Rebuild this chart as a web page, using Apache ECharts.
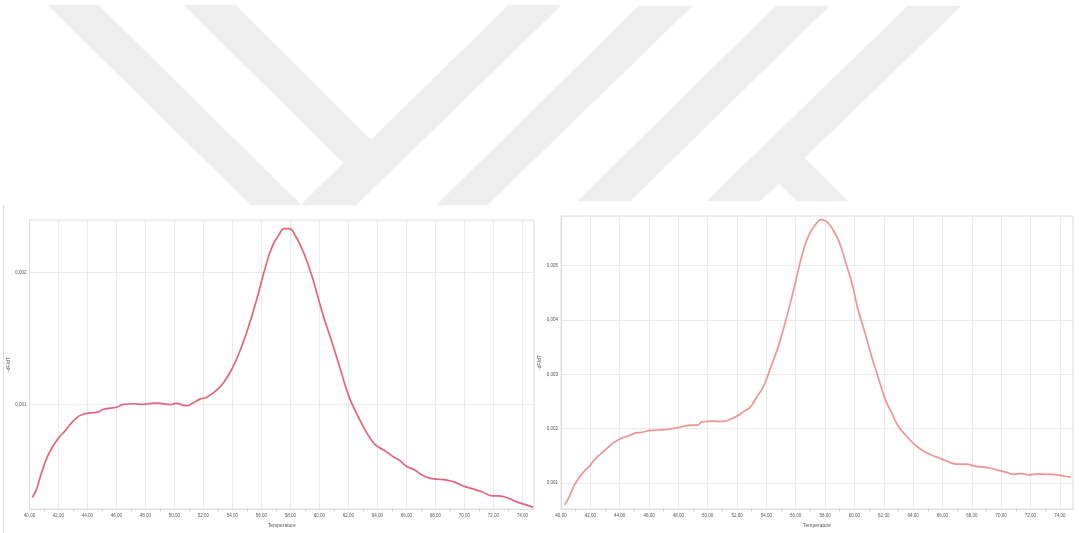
<!DOCTYPE html>
<html>
<head>
<meta charset="utf-8">
<script src="https://cdn.jsdelivr.net/npm/echarts@6/dist/echarts.min.js"></script>
<style>
  html, body { margin: 0; padding: 0; background: #ffffff; }
  #chart { width: 1079px; height: 533px; }
</style>
</head>
<body>
<div id="chart"></div>
<script>
// Melt curve derivative (-dF/dT) against temperature, two samples.
const leftTemps = [40.19, 40.48, 40.83, 41.3, 41.9, 42.5, 42.97, 43.68, 44.75, 45.1, 46.06, 46.4, 47.24, 47.7, 48.2, 48.79, 49.74, 50.1, 50.8, 51.28, 51.76, 52.23, 52.83, 53.42, 54.01, 54.6, 55.08, 55.68, 56.27, 56.75, 57.22, 57.58, 57.93, 58.29, 58.76, 59.24, 59.71, 60.19, 60.78, 61.38, 61.97, 62.45, 63.16, 63.75, 64.1, 64.58, 65.06, 65.53, 66.0, 66.6, 67.08, 67.67, 68.38, 68.86, 69.33, 69.93, 70.52, 71.24, 71.95, 72.3, 72.9, 73.61, 74.32, 74.74];
const leftValues = [0.000293, 0.000355, 0.00048, 0.000618, 0.00073, 0.000805, 0.000868, 0.000925, 0.000943, 0.000963, 0.00098, 0.000998, 0.001005, 0.001, 0.001005, 0.00101, 0.000998, 0.001008, 0.00099, 0.00101, 0.00104, 0.001055, 0.0011, 0.00117, 0.00128, 0.00143, 0.00158, 0.0018, 0.00204, 0.0022, 0.00229, 0.002335, 0.002335, 0.00229, 0.00219, 0.002055, 0.00189, 0.0017, 0.0015, 0.00129, 0.00108, 0.000955, 0.000805, 0.000705, 0.000675, 0.000643, 0.000605, 0.000575, 0.00053, 0.0005, 0.000463, 0.000438, 0.00043, 0.000423, 0.00041, 0.00038, 0.00036, 0.000335, 0.000305, 0.000305, 0.000293, 0.00026, 0.000235, 0.000218];

const rightTemps = [40.25, 40.53, 40.88, 41.23, 41.58, 41.93, 42.28, 42.75, 43.21, 43.68, 44.26, 44.73, 45.08, 45.55, 46.13, 47.06, 47.99, 48.92, 49.28, 49.63, 50.32, 51.02, 51.6, 52.07, 52.54, 52.89, 53.35, 53.82, 54.28, 54.63, 54.98, 55.33, 55.68, 56.03, 56.38, 56.85, 57.32, 57.78, 58.13, 58.48, 58.95, 59.42, 59.88, 60.23, 60.7, 61.17, 61.63, 62.1, 62.57, 63.03, 63.5, 64.08, 64.66, 65.25, 65.95, 66.64, 67.0, 67.57, 68.27, 68.98, 69.68, 70.38, 70.84, 71.42, 71.89, 72.47, 73.17, 73.87, 74.35, 74.77];
const rightValues = [0.000602, 0.000735, 0.000946, 0.001097, 0.001217, 0.001308, 0.001428, 0.001549, 0.001658, 0.00176, 0.001839, 0.001881, 0.001923, 0.001935, 0.001971, 0.001983, 0.00202, 0.002068, 0.002068, 0.002128, 0.00214, 0.002134, 0.002183, 0.002243, 0.002333, 0.002394, 0.002587, 0.002786, 0.003118, 0.00337, 0.00366, 0.00400, 0.00436, 0.004747, 0.005139, 0.005531, 0.005742, 0.005845, 0.005802, 0.005682, 0.00544, 0.00504, 0.004626, 0.004204, 0.003781, 0.003329, 0.002937, 0.002545, 0.002273, 0.002032, 0.001881, 0.001718, 0.001597, 0.001519, 0.001446, 0.001368, 0.00135, 0.00135, 0.001308, 0.00129, 0.001247, 0.001199, 0.001163, 0.001175, 0.001151, 0.001169, 0.001163, 0.001151, 0.001127, 0.001115];

const xAxisName = 'Temperature';
const yAxisName = '-dF/dT';

const pairs = (xs, ys) => xs.map((x, i) => [x, ys[i]]);
const comma = (v, d) => v.toFixed(d).replace('.', ',');

const gridLine = '#ebebeb';
const textColor = '#555555';

function xAxisFor(gridIndex, max) {
  return {
    type: 'value', gridIndex, min: 40, max, interval: 2,
    name: xAxisName, nameLocation: 'middle', nameGap: 11,
    nameTextStyle: { fontSize: 5, color: textColor, fontFamily: 'Liberation Sans' },
    axisLine: { show: true, lineStyle: { color: '#dcdcdc', width: 1 } },
    axisTick: { show: false },
    minorTick: { show: true, splitNumber: 2, length: 2, lineStyle: { color: '#c8c8c8' } },
    axisLabel: { fontSize: 4.5, color: textColor, margin: 4, showMaxLabel: false,
      fontFamily: 'Liberation Sans', formatter: v => comma(v, 2) },
    splitLine: { show: true, lineStyle: { color: gridLine, width: 1 } }
  };
}

function yAxisFor(gridIndex, min, max, gap) {
  return {
    type: 'value', gridIndex, min, max, minInterval: 0.001, maxInterval: 0.001,
    name: yAxisName, nameLocation: 'middle', nameGap: gap, nameRotate: 90,
    nameTextStyle: { fontSize: 5, color: textColor, fontFamily: 'Liberation Sans' },
    axisLine: { show: true, lineStyle: { color: '#dcdcdc', width: 1 } },
    axisTick: { show: false },
    axisLabel: { fontSize: 4.5, color: textColor, margin: 3, showMinLabel: false, showMaxLabel: false,
      fontFamily: 'Liberation Sans', formatter: v => comma(v, 3) },
    splitLine: { show: true, lineStyle: { color: gridLine, width: 1 } }
  };
}

// Faint logo shapes across the top of the page
const logoFill = '#eeeeee';
const logoShapes = [
  [[48, 5], [98, 5], [301, 205], [251, 205]],
  [[184, 5], [235, 5], [371, 140], [509, 5], [561, 5], [356, 205], [301, 205], [344, 163]],
  [[639, 6], [692, 6], [487, 205], [437, 205]],
  [[776, 6], [829, 6], [630, 201], [578, 201]],
  [[908, 6], [961, 6], [804, 158], [848, 201], [797, 201], [779, 183], [760, 201], [707, 201]]
];

const graphics = logoShapes.map(pts => ({
  type: 'polygon', silent: true, z: -10,
  shape: { points: pts },
  style: { fill: logoFill, shadowBlur: 2, shadowColor: logoFill }
}));
graphics.push({
  type: 'line', silent: true,
  shape: { x1: 3.5, y1: 205, x2: 3.5, y2: 533 },
  style: { stroke: '#dddddd', lineWidth: 1 }
});

const chart = echarts.init(document.getElementById('chart'), null, { renderer: 'canvas' });
chart.setOption({
  backgroundColor: '#ffffff',
  animation: false,
  graphic: graphics,
  grid: [
    { left: 29.5, top: 220, width: 504.5, height: 294, show: true, borderColor: '#e2e2e2', borderWidth: 1, backgroundColor: 'transparent' },
    { left: 561, top: 216, width: 512, height: 297.5, show: true, borderColor: '#e2e2e2', borderWidth: 1, backgroundColor: 'transparent' }
  ],
  xAxis: [xAxisFor(0, 74.8), xAxisFor(1, 74.9)],
  yAxis: [yAxisFor(0, 0.000205, 0.0024, 16), yAxisFor(1, 0.000523, 0.00591, 19)],
  series: [
    {
      type: 'line', xAxisIndex: 0, yAxisIndex: 0,
      data: pairs(leftTemps, leftValues),
      smooth: 0.5, showSymbol: false,
      lineStyle: { color: '#e3647b', width: 1.7 }
    },
    {
      type: 'line', xAxisIndex: 1, yAxisIndex: 1,
      data: pairs(rightTemps, rightValues),
      smooth: 0.5, showSymbol: false,
      lineStyle: { color: '#f29393', width: 1.7 }
    }
  ]
});
</script>
</body>
</html>
